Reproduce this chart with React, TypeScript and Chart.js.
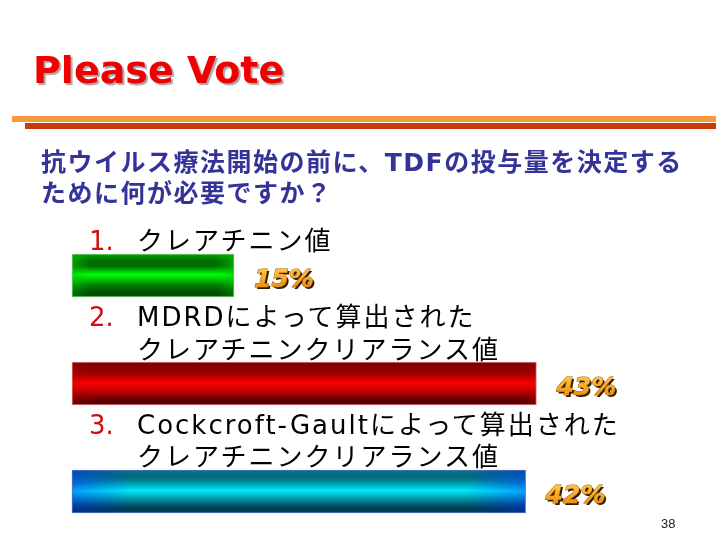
import React, { useEffect, useRef } from "react";
import { Chart, registerables } from "chart.js";

Chart.register(...registerables);

// ---- data ----
const categories = [
  "クレアチニン値",
  "MDRDによって算出されたクレアチニンクリアランス値",
  "Cockcroft-Gaultによって算出されたクレアチニンクリアランス値",
];
const votes = [15, 43, 42];
const percentLabels = ["15%", "43%", "42%"];
const optionNumbers = ["1.", "2.", "3."];
const optionLines = [
  ["クレアチニン値"],
  ["MDRDによって算出された", "クレアチニンクリアランス値"],
  ["Cockcroft-Gaultによって算出された", "クレアチニンクリアランス値"],
];
const titleText = "Please Vote";
const questionLines = [
  "抗ウイルス療法開始の前に、TDFの投与量を決定する",
  "ために何が必要ですか？",
];
const pageNumber = "38";

// ---- styles ----
type Stop = [number, string];
const centerPalettes: Stop[][] = [
  [[0, "#00a800"], [0.15, "#007000"], [0.28, "#006c00"], [0.48, "#00ff08"], [0.72, "#008000"], [0.9, "#004800"], [1, "#005800"]],
  [[0, "#7a0000"], [0.15, "#8a0000"], [0.28, "#a00000"], [0.48, "#ff0000"], [0.72, "#b00000"], [0.9, "#560000"], [1, "#600000"]],
  [[0, "#007888"], [0.15, "#006676"], [0.28, "#0090a0"], [0.48, "#00e8f8"], [0.72, "#008090"], [0.9, "#003a50"], [1, "#004458"]],
];
const endPalettes: Stop[][] = [
  [[0, "#00b000"], [0.3, "#00a800"], [0.5, "#00e400"], [0.8, "#009000"], [1, "#007000"]],
  [[0, "#900000"], [0.3, "#b00000"], [0.5, "#f00000"], [0.8, "#a00000"], [1, "#700000"]],
  [[0, "#0046c0"], [0.3, "#0060e0"], [0.5, "#0098ff"], [0.8, "#0040b8"], [1, "#002a90"]],
];
const endRamps = [18, 18, 60];
const borderColors = ["#70c870", "#e07878", "#5070c8"];

const BAR_THICKNESS = 43;

function makeFill(chart: any, i: number) {
  const ctx: CanvasRenderingContext2D = chart.ctx;
  const xs = chart.scales.x;
  const ys = chart.scales.y;
  if (!xs || !ys || !chart.chartArea) return centerPalettes[i][3][1];
  const x0 = xs.getPixelForValue(0);
  const x1 = xs.getPixelForValue(votes[i]);
  const yc = ys.getPixelForValue(i);
  const y0 = yc - BAR_THICKNESS / 2;
  const y1 = yc + BAR_THICKNESS / 2;
  const w = chart.width;
  const h = chart.height;

  const base = document.createElement("canvas");
  base.width = w;
  base.height = h;
  const b = base.getContext("2d")!;
  const ge = b.createLinearGradient(0, y0, 0, y1);
  endPalettes[i].forEach(([o, c]) => ge.addColorStop(o, c));
  b.fillStyle = ge;
  b.fillRect(x0, y0, x1 - x0, y1 - y0);

  const over = document.createElement("canvas");
  over.width = w;
  over.height = h;
  const o = over.getContext("2d")!;
  const gc = o.createLinearGradient(0, y0, 0, y1);
  centerPalettes[i].forEach(([p, c]) => gc.addColorStop(p, c));
  o.fillStyle = gc;
  o.fillRect(x0, y0, x1 - x0, y1 - y0);
  o.globalCompositeOperation = "destination-in";
  const len = x1 - x0;
  const r = Math.min(endRamps[i], len / 3) / len;
  const gm = o.createLinearGradient(x0, 0, x1, 0);
  gm.addColorStop(0, "rgba(0,0,0,0.15)");
  gm.addColorStop(r, "rgba(0,0,0,1)");
  gm.addColorStop(1 - r, "rgba(0,0,0,1)");
  gm.addColorStop(1, "rgba(0,0,0,0.15)");
  o.fillStyle = gm;
  o.fillRect(x0, y0, x1 - x0, y1 - y0);

  b.drawImage(over, 0, 0);
  return ctx.createPattern(base, "no-repeat");
}

const percentPlugin = {
  id: "percentLabels",
  afterDatasetsDraw(chart: any) {
    const ctx: CanvasRenderingContext2D = chart.ctx;
    const meta = chart.getDatasetMeta(0);
    ctx.save();
    ctx.font = 'italic bold 25px "DejaVu Sans"';
    ctx.textBaseline = "middle";
    ctx.textAlign = "left";
    meta.data.forEach((el: any, i: number) => {
      const x = el.x + 20;
      const y = el.y + 5;
      ctx.fillStyle = "#2e1a00";
      ctx.fillText(percentLabels[i], x + 2, y + 2);
      ctx.lineWidth = 1;
      ctx.strokeStyle = "#a86000";
      ctx.strokeText(percentLabels[i], x, y);
      const g = ctx.createLinearGradient(0, y - 9, 0, y + 9);
      g.addColorStop(0, "#ffbe3c");
      g.addColorStop(1, "#e88a10");
      ctx.fillStyle = g;
      ctx.fillText(percentLabels[i], x, y);
    });
    ctx.restore();
  },
};

const FONT_STACK = '"DejaVu Sans", "Noto Sans CJK JP", sans-serif';

export default function App() {
  const canvasRef = useRef<HTMLCanvasElement | null>(null);

  useEffect(() => {
    document.body.style.margin = "0";
    const canvas = canvasRef.current!;
    const chart = new Chart(canvas, {
      type: "bar",
      data: {
        labels: categories,
        datasets: [
          {
            data: votes,
            backgroundColor: (c: any) => makeFill(c.chart, c.dataIndex),
            borderColor: borderColors,
            borderWidth: 1,
            borderSkipped: false,
            barThickness: BAR_THICKNESS,
            clip: false as any,
          },
        ],
      },
      options: {
        indexAxis: "y",
        responsive: false,
        animation: false,
        layout: { padding: { left: 72, right: 0, top: 275.5, bottom: 48.5 } },
        scales: {
          x: { display: false, min: 0, max: 60 },
          y: { display: false, offset: false },
        },
        plugins: {
          legend: { display: false },
          tooltip: { enabled: false },
        },
      },
      plugins: [percentPlugin],
    });
    return () => chart.destroy();
  }, []);

  const listTops = [[228], [304, 336.5], [412, 444]];

  return (
    <div
      style={{
        position: "fixed",
        left: 0,
        top: 0,
        width: 720,
        height: 540,
        background: "#ffffff",
        overflow: "hidden",
      }}
    >
      <canvas
        ref={canvasRef}
        width={720}
        height={540}
        style={{ position: "absolute", left: 0, top: 0, width: 720, height: 540 }}
      />
      <div
        style={{
          position: "absolute",
          left: 33,
          top: 51,
          fontFamily: '"DejaVu Sans", sans-serif',
          fontWeight: "bold",
          fontSize: 38,
          lineHeight: "38px",
          color: "#f00000",
          textShadow: "2px 2px 1px #a8a8a8",
          whiteSpace: "nowrap",
        }}
      >
        {titleText}
      </div>
      <div style={{ position: "absolute", left: 12, top: 116, width: 704, height: 6, background: "#f99a3c" }} />
      <div style={{ position: "absolute", left: 25, top: 123, width: 691, height: 6, background: "#c43c08" }} />
      {questionLines.map((t, i) => (
        <div
          key={"q" + i}
          style={{
            position: "absolute",
            left: 41,
            top: 150.3 + i * 31,
            fontFamily: FONT_STACK,
            fontWeight: "bold",
            fontSize: 25,
            lineHeight: "25px",
            letterSpacing: 1.5,
            color: "#333399",
            whiteSpace: "nowrap",
          }}
        >
          {t}
        </div>
      ))}
      {optionLines.map((lines, i) => (
        <React.Fragment key={"o" + i}>
          <div
            style={{
              position: "absolute",
              left: 89,
              top: listTops[i][0],
              fontFamily: FONT_STACK,
              fontSize: 26,
              lineHeight: "26px",
              color: "#cc1010",
              whiteSpace: "nowrap",
            }}
          >
            {optionNumbers[i]}
          </div>
          {lines.map((t, j) => (
            <div
              key={j}
              style={{
                position: "absolute",
                left: 137,
                top: listTops[i][j],
                fontFamily: FONT_STACK,
                fontSize: 26,
                lineHeight: "26px",
                letterSpacing: 2,
                color: "#000000",
                whiteSpace: "nowrap",
              }}
            >
              {t}
            </div>
          ))}
        </React.Fragment>
      ))}
      <div
        style={{
          position: "absolute",
          left: 661,
          top: 517,
          fontFamily: '"Liberation Sans", sans-serif',
          fontSize: 13,
          lineHeight: "13px",
          color: "#222222",
        }}
      >
        {pageNumber}
      </div>
    </div>
  );
}
